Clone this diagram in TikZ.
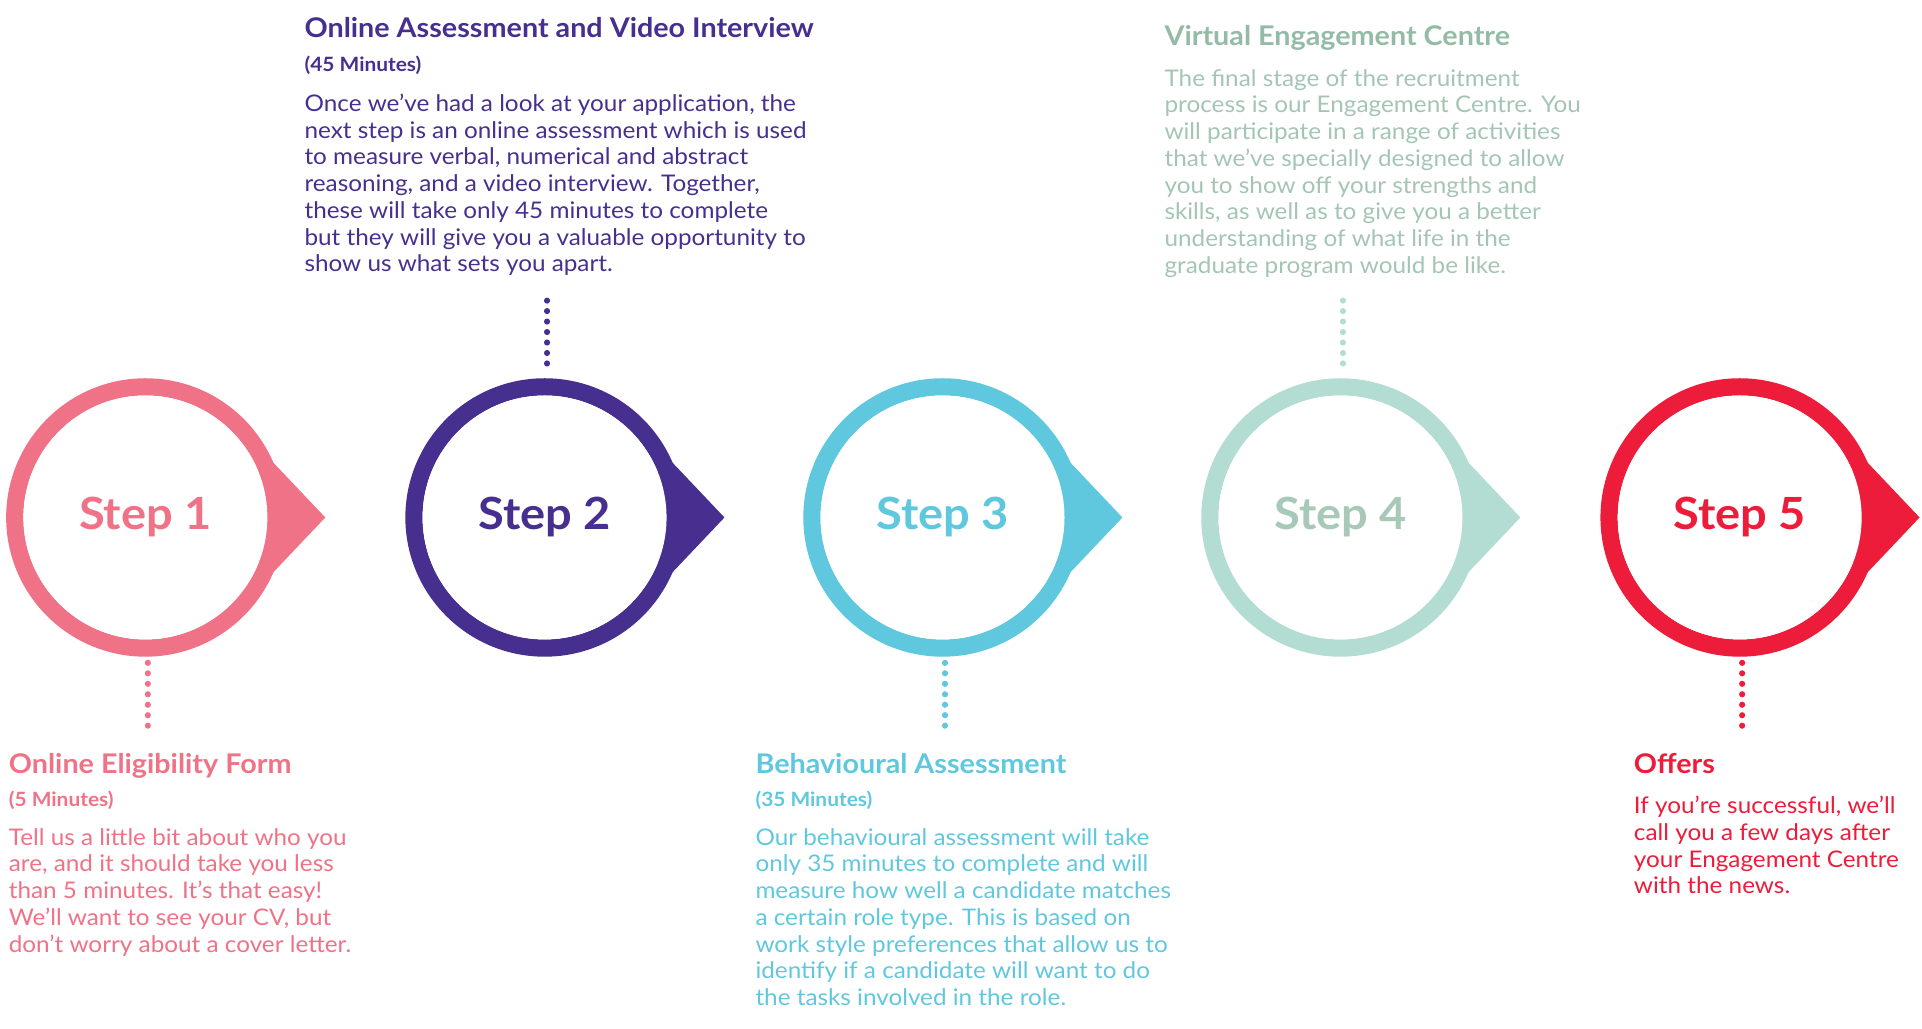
\documentclass[tikz,border=0pt]{standalone}
\usepackage{fontspec}
\setmainfont{Lato}[FakeStretch=1.06]
\definecolor{cA}{HTML}{F07286}
\definecolor{cB}{HTML}{472F8F}
\definecolor{cC}{HTML}{5FC8DE}
\definecolor{cD}{HTML}{B3DDD3}
\definecolor{cDt}{HTML}{94BBA6}
\definecolor{cE}{HTML}{ED1C3A}
\begin{document}
\begin{tikzpicture}[x=1pt,y=-1pt,
  ttl/.style={anchor=north west,inner sep=0,align=left,font=\fontsize{22}{26}\selectfont\bfseries},
  sub/.style={anchor=north west,inner sep=0,align=left,font=\fontsize{16}{19}\selectfont\bfseries},
  body/.style={anchor=north west,inner sep=0,align=left,font=\fontsize{18.6}{21.7}\selectfont},
  stp/.style={font=\fontsize{36}{40}\selectfont\bfseries},
  dots/.style={line width=5pt,line cap=round,dash pattern=on 0pt off 8.5pt}]
\useasboundingbox (0,0) rectangle (1560,835);
\foreach \x/\c in {118/cA,442/cB,765/cC,1088/cD,1412/cE}{
  \draw[\c,line width=14pt] (\x,420) circle (106);
  \fill[\c] ({\x+92},{420-57}) -- ({\x+146},420) -- ({\x+92},{420+57}) -- cycle;
  \fill[white] (\x,420) circle (99);
}
\node[stp,text=cA] (s1) at (118,420) {Step 1};
\node[stp,text=cB] (s2) at (442,420) {Step 2};
\node[stp,text=cC] (s3) at (765,420) {Step 3};
\node[stp,text=cDt!80] (s4) at (1088,420) {Step 4};
\node[stp,text=cE] (s5) at (1412,420) {Step 5};
\coordinate (a1) at (120,538); \coordinate (b1) at (120,596);
\coordinate (a2) at (444,244); \coordinate (b2) at (444,302);
\coordinate (a3) at (767,538); \coordinate (b3) at (767,596);
\coordinate (a4) at (1090,244); \coordinate (b4) at (1090,302);
\coordinate (a5) at (1414,538); \coordinate (b5) at (1414,596);
\draw[dots,cA] (a1)--(b1); \draw[dots,cB] (a2)--(b2); \draw[dots,cC] (a3)--(b3);
\draw[dots,cD] (a4)--(b4); \draw[dots,cE] (a5)--(b5);
% step 1
\node[ttl,text=cA] (t1) at (7,611) {Online Eligibility Form};
\node[sub,text=cA] (u1) at (7,642) {(5 Minutes)};
\node[body,text=cA] (d1) at (7,672) {Tell us a little bit about who you\\are, and it should take you less\\than 5 minutes. It’s that easy!\\We’ll want to see your CV, but\\don’t worry about a cover letter.};
% step 2
\node[ttl,text=cB] (t2) at (247,14) {Online Assessment and Video Interview};
\node[sub,text=cB] (u2) at (247,45) {(45 Minutes)};
\node[body,text=cB] (d2) at (247,76) {Once we’ve had a look at your application, the\\next step is an online assessment which is used\\to measure verbal, numerical and abstract\\reasoning, and a video interview. Together,\\these will take only 45 minutes to complete\\but they will give you a valuable opportunity to\\show us what sets you apart.};
% step 3
\node[ttl,text=cC] (t3) at (613,611) {Behavioural Assessment};
\node[sub,text=cC] (u3) at (613,642) {(35 Minutes)};
\node[body,text=cC] (d3) at (613,672) {Our behavioural assessment will take\\only 35 minutes to complete and will\\measure how well a candidate matches\\a certain role type. This is based on\\work style preferences that allow us to\\identify if a candidate will want to do\\the tasks involved in the role.};
% step 4
\node[ttl,text=cDt] (t4) at (945,20) {Virtual Engagement Centre};
\node[body,text=cDt!85] (d4) at (945,56) {The final stage of the recruitment\\process is our Engagement Centre. You\\will participate in a range of activities\\that we’ve specially designed to allow\\you to show off your strengths and\\skills, as well as to give you a better\\understanding of what life in the\\graduate program would be like.};
% step 5
\node[ttl,text=cE] (t5) at (1326,611) {Offers};
\node[body,text=cE] (d5) at (1326,646) {If you’re successful, we’ll\\call you a few days after\\your Engagement Centre\\with the news.};
\end{tikzpicture}
\end{document}
